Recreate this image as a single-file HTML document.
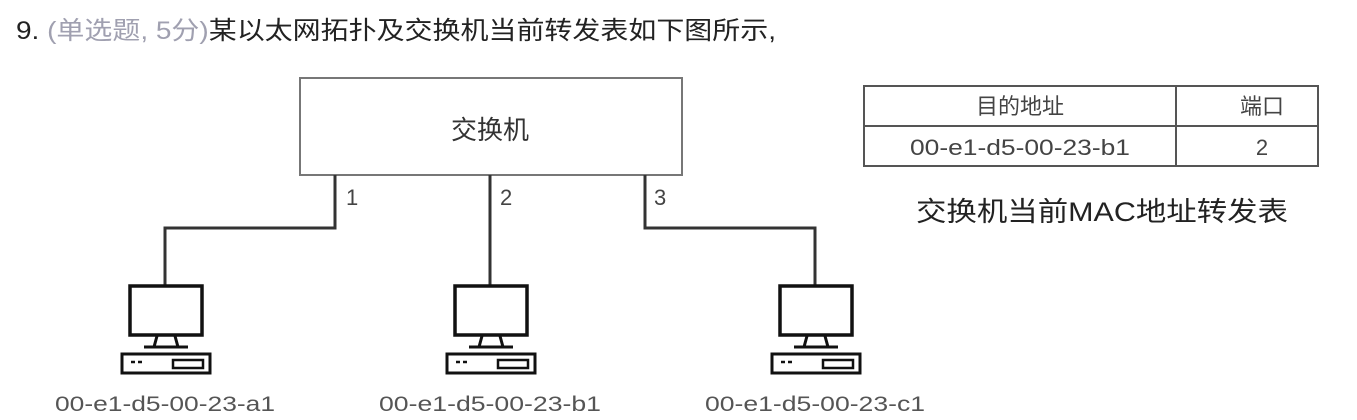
<!DOCTYPE html>
<html><head><meta charset="utf-8"><style>
html,body{margin:0;padding:0;background:#fff;width:1357px;height:420px;overflow:hidden}
svg{display:block}
</style></head><body>
<svg width="1357" height="420" xmlns="http://www.w3.org/2000/svg" font-family="'Liberation Sans','Noto Sans CJK SC',sans-serif">
<text x="16" y="39" font-size="25" fill="#222" textLength="760" lengthAdjust="spacingAndGlyphs">9. <tspan fill="#a0a0b0">(单选题, 5分)</tspan>某以太网拓扑及交换机当前转发表如下图所示,</text>
<rect x="300" y="78" width="382" height="97" fill="#fff" stroke="#777" stroke-width="2"/>
<text x="490" y="139" font-size="26" fill="#333" text-anchor="middle">交换机</text>
<g fill="none" stroke="#333" stroke-width="3">
<polyline points="335,175 335,228 165,228 165,286"/>
<line x1="490" y1="175" x2="490" y2="286"/>
<polyline points="645,175 645,228 815,228 815,286"/>
</g>
<g font-size="22" fill="#444">
<text x="346" y="205">1</text><text x="500" y="205">2</text><text x="654" y="205">3</text>
</g>
<defs>
<g id="pc" fill="none" stroke="#111">
<rect x="-36" y="286" width="72" height="49" stroke-width="3.5"/>
<path d="M-9,336 L-12,347 M9,336 L12,347" stroke-width="3"/>
<line x1="-22" y1="347" x2="22" y2="347" stroke-width="3"/>
<rect x="-44" y="354" width="88" height="19" stroke-width="3"/>
<rect x="7" y="360" width="30" height="8" stroke-width="2.5"/>
<line x1="-35" y1="362" x2="-31" y2="362" stroke-width="2.5"/>
<line x1="-28" y1="362" x2="-24" y2="362" stroke-width="2.5"/>
</g>
</defs>
<use href="#pc" x="166"/><use href="#pc" x="491"/><use href="#pc" x="816"/>
<g font-size="21" fill="#555" text-anchor="middle">
<text x="165" y="411" textLength="220" lengthAdjust="spacingAndGlyphs">00-e1-d5-00-23-a1</text>
<text x="490" y="411" textLength="222" lengthAdjust="spacingAndGlyphs">00-e1-d5-00-23-b1</text>
<text x="815" y="411" textLength="220" lengthAdjust="spacingAndGlyphs">00-e1-d5-00-23-c1</text>
</g>
<g fill="none" stroke="#555" stroke-width="2">
<rect x="864" y="86" width="454" height="80"/>
<line x1="864" y1="126" x2="1318" y2="126"/>
<line x1="1176" y1="86" x2="1176" y2="166"/>
</g>
<g font-size="22" fill="#444" text-anchor="middle">
<text x="1020" y="114">目的地址</text>
<text x="1262" y="114">端口</text>
<text x="1020" y="155" textLength="220" lengthAdjust="spacingAndGlyphs">00-e1-d5-00-23-b1</text>
<text x="1262" y="155">2</text>
</g>
<text x="1102" y="221" font-size="27" fill="#222" text-anchor="middle" textLength="372" lengthAdjust="spacingAndGlyphs">交换机当前MAC地址转发表</text>
</svg>
</body></html>
